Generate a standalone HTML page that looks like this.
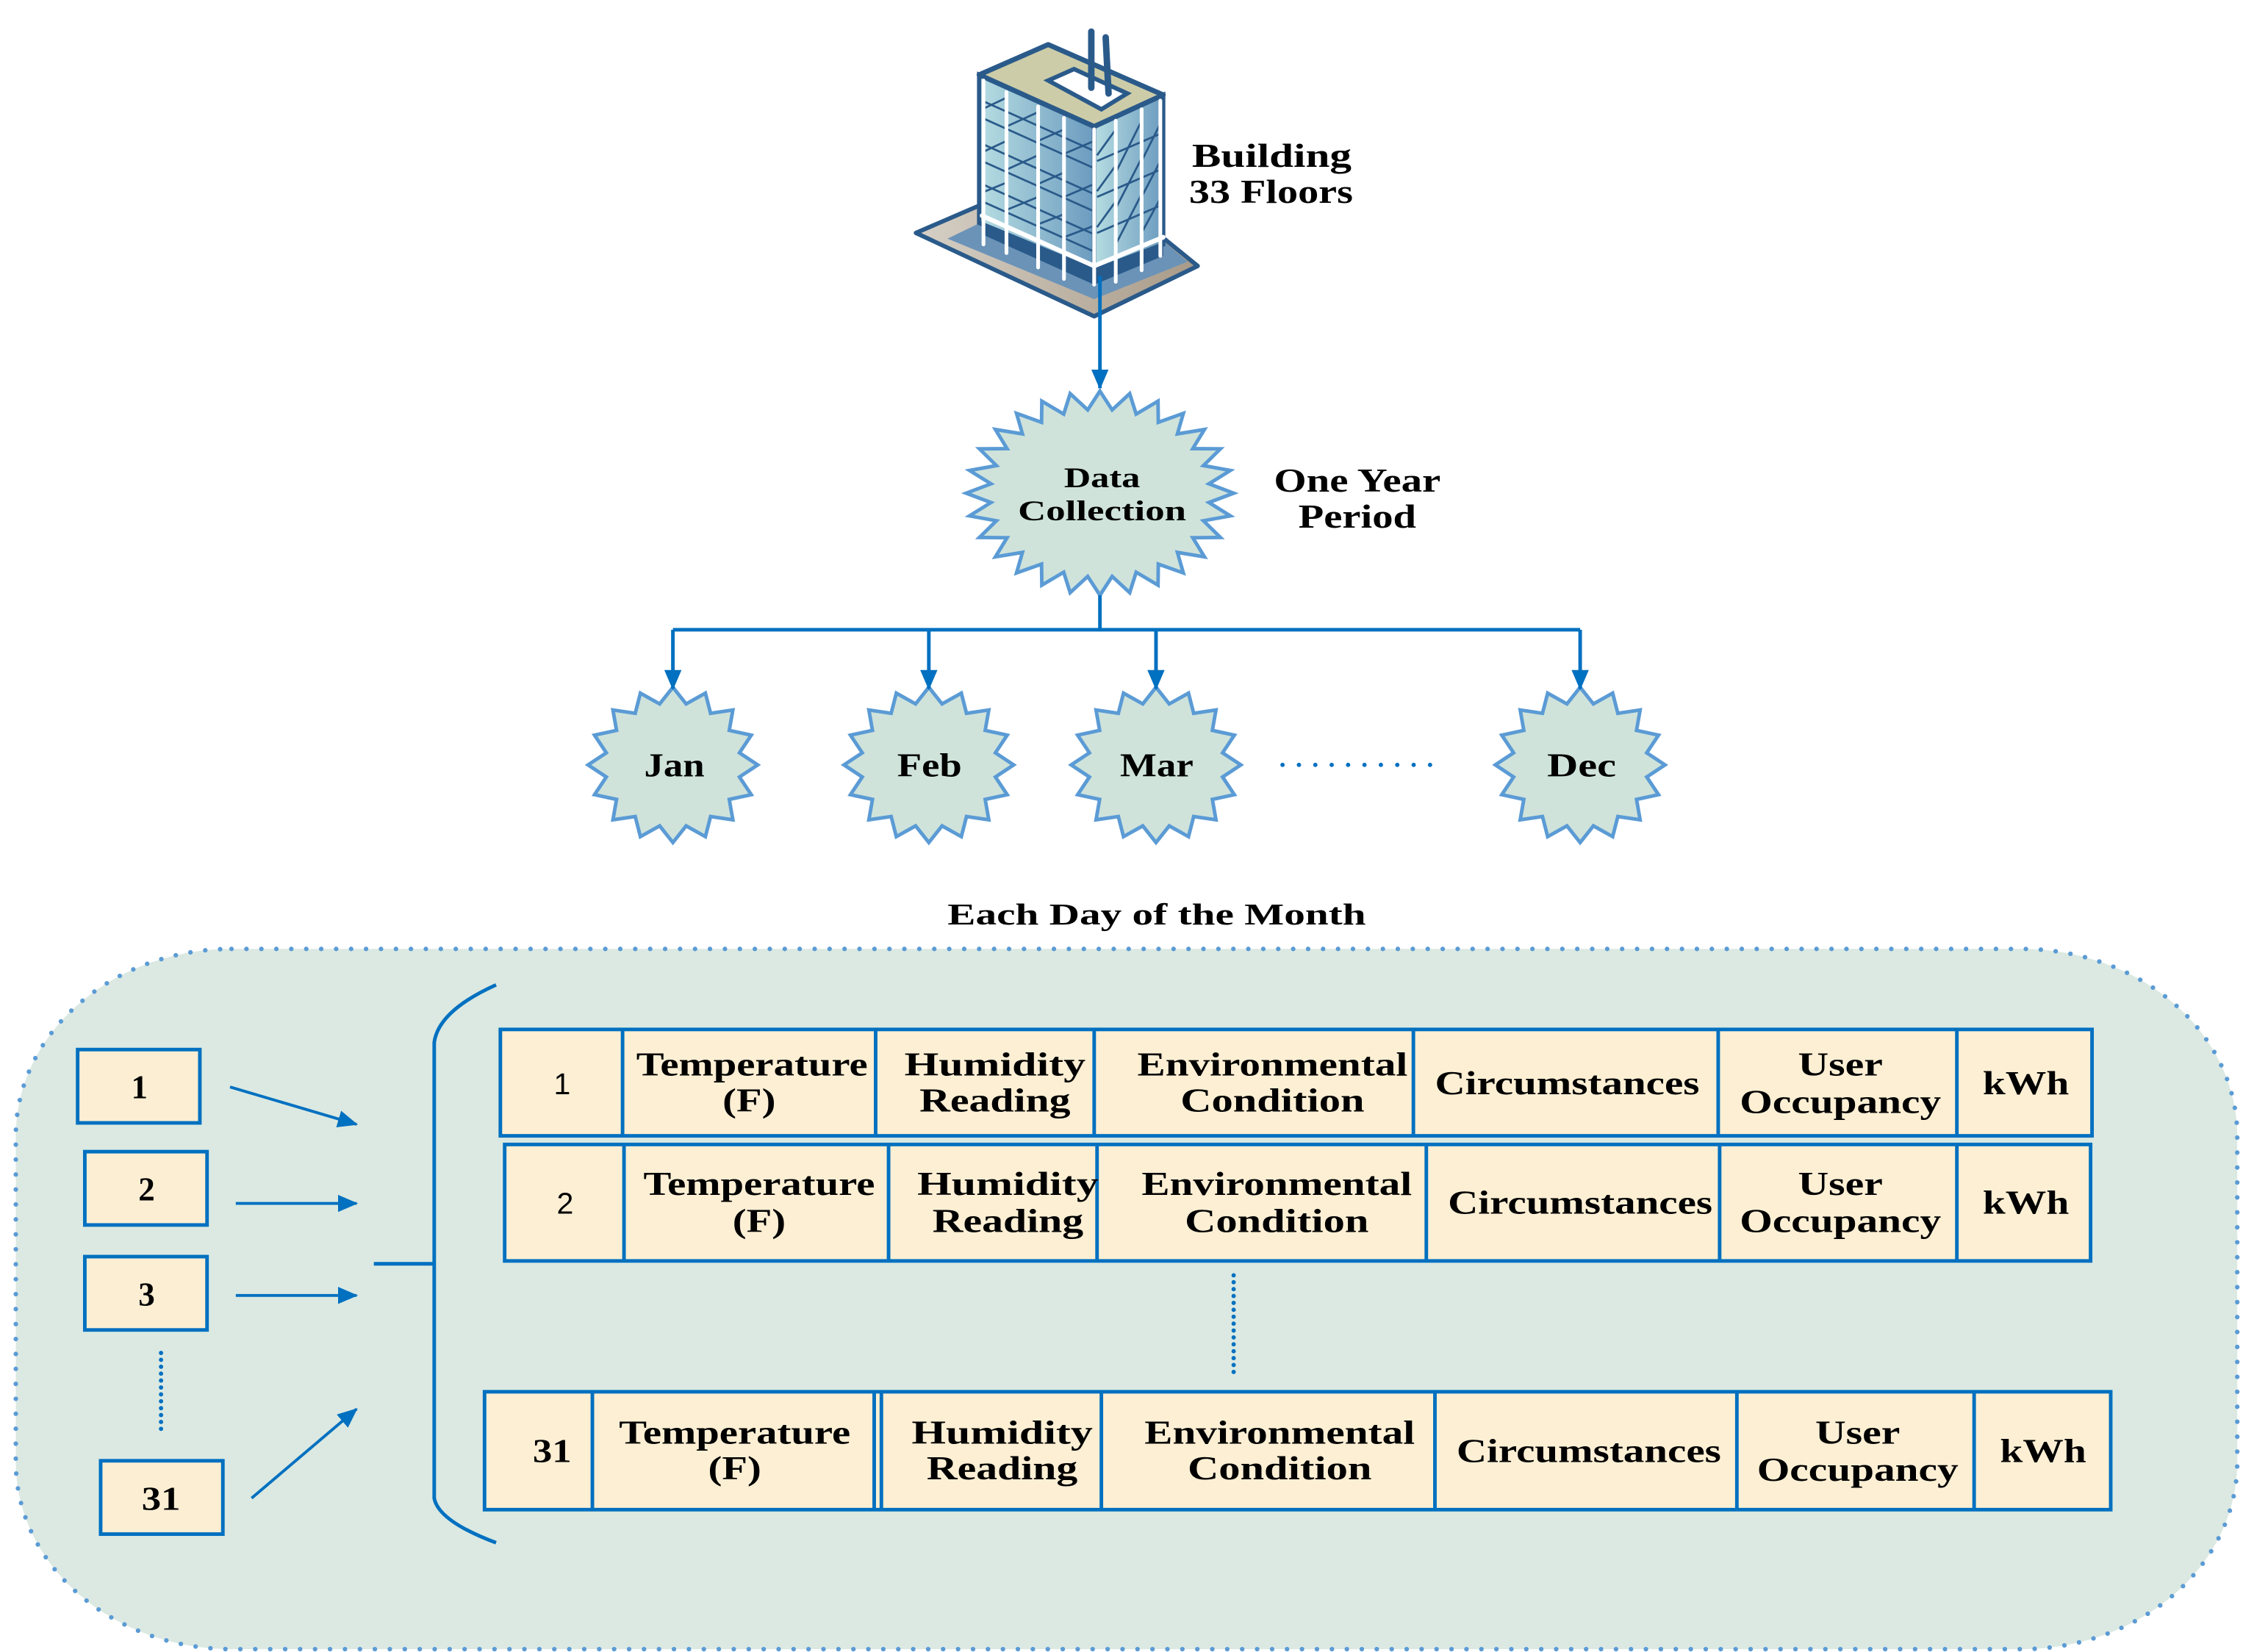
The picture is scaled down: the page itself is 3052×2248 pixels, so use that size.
<!DOCTYPE html>
<html><head><meta charset="utf-8"><style>
html,body{margin:0;padding:0;background:#fff;}
svg{display:block;}
text{font-family:"Liberation Serif",serif;font-weight:bold;fill:#000;}
</style></head><body>
<svg id="s" width="3052" height="2248" viewBox="0 0 1560 1149" preserveAspectRatio="none" xmlns="http://www.w3.org/2000/svg">
<defs>
<linearGradient id="gl" x1="0" x2="1" y1="0" y2="0"><stop offset="0" stop-color="#b6dde2"/><stop offset="1" stop-color="#6c9bbf"/></linearGradient>
<linearGradient id="gb" x1="0" x2="1"><stop offset="0" stop-color="#d6d0c6"/><stop offset="1" stop-color="#a89a88"/></linearGradient>
<marker id="ah2" markerWidth="14" markerHeight="12" refX="13" refY="6" orient="auto" markerUnits="userSpaceOnUse" viewBox="0 0 14 12"><path d="M0,0 L14,6 L0,12 Z" fill="#0070c0"/></marker>
</defs>

<!-- Building -->
<polygon points="637,162 681,143 790,150 833,185 761,220" fill="url(#gb)" stroke="#2a5a8a" stroke-width="3" stroke-linejoin="round"/>
<polygon points="659,166 690,151 800,160 826,182 761,208" fill="#6b93b8"/>
<polygon points="683,150 761,185 809,165 809,178 761,198 683,163" fill="#2a5a8a"/>
<polygon points="681,52 761,88 761,188 681,155" fill="url(#gl)" stroke="#2a5a8a" stroke-width="3"/>
<polygon points="761,88 809,66 809,170 761,188" fill="url(#gl)" stroke="#2a5a8a" stroke-width="3"/>
<g stroke="#2a5a8a" stroke-width="1.4" fill="none">
<path d="M683,70 L761,105 M683,82 L761,117 M683,100 L761,135 M683,112 L761,147 M683,128 L761,163 M683,140 L761,175"/>
<path d="M683,76 L700,68 M700,88 L722,78 M722,98 L740,90 M740,107 L761,98 M683,106 L700,98 M700,118 L722,108 M722,128 L740,120 M740,137 L761,128 M683,134 L700,127 M700,146 L722,137 M722,156 L740,149 M740,165 L761,157"/>
<path d="M763,112 L807,93 M763,137 L807,118 M763,162 L807,143 M763,108 L776,90 M776,120 L794,84 M794,112 L807,86 M763,133 L776,115 M776,145 L794,110 M794,137 L807,112 M763,158 L776,140 M776,170 L794,135 M794,162 L807,138"/>
</g>
<polygon points="681,52 729,31 809,66 761,88" fill="#cccca8" stroke="#2a5a8a" stroke-width="3.5" stroke-linejoin="round"/>
<polygon points="729,56 747,48 784,65 766,76" fill="#fff" stroke="#2a5a8a" stroke-width="3"/>
<path d="M759,22 L759,61 M769,26 L771,65" stroke="#2a5a8a" stroke-width="4.5" stroke-linecap="round"/>
<g stroke="#fff" stroke-width="2.6" stroke-linecap="round" fill="none">
<path d="M684,56 L684,170 M700,64 L700,176 M722,74 L722,186 M740,82 L740,194 M761,90 L761,198 M776,84 L776,196 M794,76 L794,188 M807,70 L807,178"/>
<path d="M683,150 L761,185 L809,165" stroke-width="3.2"/>
</g>
<text x="829" y="116" font-size="23" textLength="111" lengthAdjust="spacingAndGlyphs">Building</text>
<text x="827" y="141" font-size="23" textLength="114" lengthAdjust="spacingAndGlyphs">33 Floors</text>

<line x1="765" y1="192" x2="765" y2="270" stroke="#0070c0" stroke-width="2.5" marker-end="url(#ah2)"/>

<g id="stars" fill="#cfe3db" stroke="#5b9bd5" stroke-width="2.5" stroke-linejoin="miter"></g>
<text x="740" y="339" font-size="20" textLength="53" lengthAdjust="spacingAndGlyphs">Data</text>
<text x="708" y="362" font-size="20" textLength="117" lengthAdjust="spacingAndGlyphs">Collection</text>
<text x="886" y="342" font-size="23" textLength="116" lengthAdjust="spacingAndGlyphs">One Year</text>
<text x="903" y="367" font-size="23" textLength="82" lengthAdjust="spacingAndGlyphs">Period</text>

<g stroke="#0070c0" stroke-width="2.5" fill="none">
<path d="M765,414 L765,438 M468,438 L1099,438"/>
<line x1="468" y1="438" x2="468" y2="479" marker-end="url(#ah2)"/>
<line x1="646" y1="438" x2="646" y2="479" marker-end="url(#ah2)"/>
<line x1="804" y1="438" x2="804" y2="479" marker-end="url(#ah2)"/>
<line x1="1099" y1="438" x2="1099" y2="479" marker-end="url(#ah2)"/>
</g>
<text x="448" y="540" font-size="23" textLength="42" lengthAdjust="spacingAndGlyphs">Jan</text>
<text x="624" y="540" font-size="23" textLength="45" lengthAdjust="spacingAndGlyphs">Feb</text>
<text x="779" y="540" font-size="23" textLength="51" lengthAdjust="spacingAndGlyphs">Mar</text>
<text x="1076" y="540" font-size="23" textLength="48" lengthAdjust="spacingAndGlyphs">Dec</text>
<line x1="892" y1="532" x2="1006" y2="532" stroke="#0070c0" stroke-width="3" stroke-dasharray="0 11.4" stroke-linecap="round"/>

<text x="659" y="643" font-size="21" textLength="291" lengthAdjust="spacingAndGlyphs">Each Day of the Month</text>

<rect x="11" y="660" width="1545" height="487" rx="150" ry="130" fill="#dbe9e2" stroke="#5b9bd5" stroke-width="3.2" stroke-dasharray="0 10.4" stroke-linecap="round"/>

<g fill="#fbeed3" stroke="#0070c0" stroke-width="2.5">
<rect x="54" y="730" width="85" height="51"/>
<rect x="59" y="801" width="85" height="51"/>
<rect x="59" y="874" width="85" height="51"/>
<rect x="70" y="1016" width="85" height="51"/>
</g>
<g font-size="23" text-anchor="middle">
<text x="97" y="764">1</text>
<text x="102" y="835">2</text>
<text x="102" y="908">3</text>
<text x="112" y="1050" textLength="27" lengthAdjust="spacingAndGlyphs">31</text>
</g>
<line x1="112" y1="941" x2="112" y2="998" stroke="#0070c0" stroke-width="3" stroke-dasharray="0 4.8" stroke-linecap="round"/>
<line x1="858" y1="887" x2="858" y2="955" stroke="#0070c0" stroke-width="3" stroke-dasharray="0 4.8" stroke-linecap="round"/>

<g stroke="#0070c0" stroke-width="2" fill="none">
<line x1="160" y1="756" x2="248" y2="782" marker-end="url(#ah2)"/>
<line x1="164" y1="837" x2="248" y2="837" marker-end="url(#ah2)"/>
<line x1="164" y1="901" x2="248" y2="901" marker-end="url(#ah2)"/>
<line x1="175" y1="1042" x2="248" y2="980" marker-end="url(#ah2)"/>
<path d="M260,879 L302,879 M345,685 Q305,703 302,725 L302,1042 Q305,1058 345,1073" stroke-width="2.5"/>
</g>

<g fill="#fcefd4" stroke="#0070c0" stroke-width="2.5">
<rect x="348" y="716" width="1107" height="74"/>
<rect x="351" y="796" width="1103" height="81"/>
<rect x="337" y="968" width="1131" height="82"/>
</g>
<g stroke="#0070c0" stroke-width="2.5">
<path d="M433,716 V790 M609,716 V790 M761,716 V790 M983,716 V790 M1195,716 V790 M1361,716 V790"/>
<path d="M434,796 V877 M618,796 V877 M763,796 V877 M992,796 V877 M1196,796 V877 M1361,796 V877"/>
<path d="M412,968 V1050 M608,968 V1050 M613,968 V1050 M766,968 V1050 M998,968 V1050 M1208,968 V1050 M1373,968 V1050"/>
</g>
<g font-size="23" text-anchor="middle">
<text x="391" y="761" style="font-family:'Liberation Sans',sans-serif;font-weight:normal;font-size:21px">1</text>
<text x="523" y="748" textLength="161" lengthAdjust="spacingAndGlyphs">Temperature</text><text x="521" y="773" textLength="37" lengthAdjust="spacingAndGlyphs">(F)</text>
<text x="692" y="748" textLength="126" lengthAdjust="spacingAndGlyphs">Humidity</text><text x="692" y="773" textLength="105" lengthAdjust="spacingAndGlyphs">Reading</text>
<text x="885" y="748" textLength="188" lengthAdjust="spacingAndGlyphs">Environmental</text><text x="885" y="773" textLength="128" lengthAdjust="spacingAndGlyphs">Condition</text>
<text x="1090" y="761" textLength="184" lengthAdjust="spacingAndGlyphs">Circumstances</text>
<text x="1280" y="748" textLength="59" lengthAdjust="spacingAndGlyphs">User</text><text x="1280" y="774" textLength="140" lengthAdjust="spacingAndGlyphs">Occupancy</text>
<text x="1409" y="761" textLength="60" lengthAdjust="spacingAndGlyphs">kWh</text>

<text x="393" y="844" style="font-family:'Liberation Sans',sans-serif;font-weight:normal;font-size:21px">2</text>
<text x="528" y="831" textLength="161" lengthAdjust="spacingAndGlyphs">Temperature</text><text x="528" y="857" textLength="37" lengthAdjust="spacingAndGlyphs">(F)</text>
<text x="701" y="831" textLength="126" lengthAdjust="spacingAndGlyphs">Humidity</text><text x="701" y="857" textLength="105" lengthAdjust="spacingAndGlyphs">Reading</text>
<text x="888" y="831" textLength="188" lengthAdjust="spacingAndGlyphs">Environmental</text><text x="888" y="857" textLength="128" lengthAdjust="spacingAndGlyphs">Condition</text>
<text x="1099" y="844" textLength="184" lengthAdjust="spacingAndGlyphs">Circumstances</text>
<text x="1280" y="831" textLength="59" lengthAdjust="spacingAndGlyphs">User</text><text x="1280" y="857" textLength="140" lengthAdjust="spacingAndGlyphs">Occupancy</text>
<text x="1409" y="844" textLength="60" lengthAdjust="spacingAndGlyphs">kWh</text>

<text x="384" y="1017" textLength="27" lengthAdjust="spacingAndGlyphs">31</text>
<text x="511" y="1004" textLength="161" lengthAdjust="spacingAndGlyphs">Temperature</text><text x="511" y="1029" textLength="37" lengthAdjust="spacingAndGlyphs">(F)</text>
<text x="697" y="1004" textLength="126" lengthAdjust="spacingAndGlyphs">Humidity</text><text x="697" y="1029" textLength="105" lengthAdjust="spacingAndGlyphs">Reading</text>
<text x="890" y="1004" textLength="188" lengthAdjust="spacingAndGlyphs">Environmental</text><text x="890" y="1029" textLength="128" lengthAdjust="spacingAndGlyphs">Condition</text>
<text x="1105" y="1017" textLength="184" lengthAdjust="spacingAndGlyphs">Circumstances</text>
<text x="1292" y="1004" textLength="59" lengthAdjust="spacingAndGlyphs">User</text><text x="1292" y="1030" textLength="140" lengthAdjust="spacingAndGlyphs">Occupancy</text>
<text x="1421" y="1017" textLength="60" lengthAdjust="spacingAndGlyphs">kWh</text>
</g>
</svg>
<script>
(function(){
var g=document.getElementById('stars');
function star(cx,cy,rx,ry,n,k){
 var p=[];
 for(var i=0;i<2*n;i++){
  var a=-Math.PI/2+i*Math.PI/n;
  var f=(i%2==0)?1:k;
  p.push((cx+rx*f*Math.cos(a)).toFixed(1)+','+(cy+ry*f*Math.sin(a)).toFixed(1));
 }
 var e=document.createElementNS('http://www.w3.org/2000/svg','polygon');
 e.setAttribute('points',p.join(' '));
 g.appendChild(e);
}
star(765,343,93,71,28,0.82);
star(468,532,59,54,16,0.8);
star(646,532,59,54,16,0.8);
star(804,532,59,54,16,0.8);
star(1099,532,59,54,16,0.8);
})();
</script>
</body></html>
